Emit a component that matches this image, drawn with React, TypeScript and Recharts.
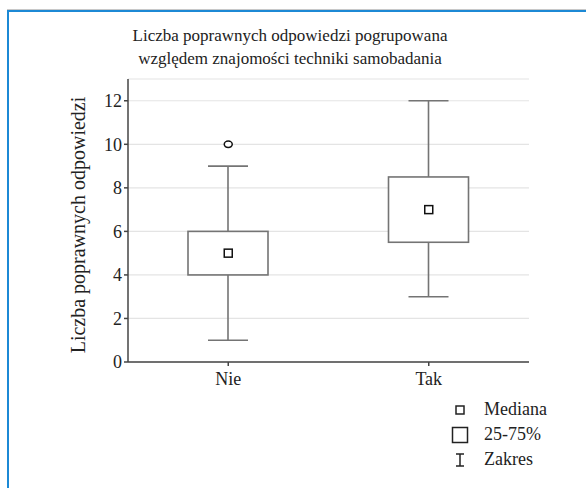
import React from 'react'
import { ComposedChart, Bar, Scatter, XAxis, YAxis, CartesianGrid } from 'recharts'

const categories = ['Nie', 'Tak']
const minValues = [1, 3]
const q1Values = [4, 5.5]
const medianValues = [5, 7]
const q3Values = [6, 8.5]
const maxValues = [9, 12]
const outlierValues: (number | null)[] = [10, null]
const yTicks = [0, 2, 4, 6, 8, 10, 12]

const titleLines = ['Liczba poprawnych odpowiedzi pogrupowana', 'względem znajomości techniki samobadania']
const yLabel = 'Liczba poprawnych odpowiedzi'
const legendItems = ['Mediana', '25-75%', 'Zakres']

const FONT = '"Liberation Serif", "Times New Roman", serif'
const BOX_COLOR = '#747474'
const AXIS_COLOR = '#444'

const data = categories.map((name, i) => ({
  name,
  range: [minValues[i], maxValues[i]],
  min: minValues[i],
  q1: q1Values[i],
  median: medianValues[i],
  q3: q3Values[i],
  max: maxValues[i],
  outlier: outlierValues[i],
}))

// draws whiskers + box inside the bar's own [min, max] pixel range
const BoxShape = (props: any) => {
  const { x, y, width, height, payload } = props
  const top = Math.min(y, y + height)
  const h = Math.abs(height)
  const unit = h / (payload.max - payload.min)
  const toY = (v: number) => top + (payload.max - v) * unit
  const cx = x + width / 2
  const capHalf = 20
  return (
    <g stroke={BOX_COLOR} strokeWidth={1.6} fill="none">
      <line x1={cx} x2={cx} y1={toY(payload.max)} y2={toY(payload.q3)} />
      <line x1={cx} x2={cx} y1={toY(payload.q1)} y2={toY(payload.min)} />
      <line x1={cx - capHalf} x2={cx + capHalf} y1={toY(payload.max)} y2={toY(payload.max)} />
      <line x1={cx - capHalf} x2={cx + capHalf} y1={toY(payload.min)} y2={toY(payload.min)} />
      <rect x={x} y={toY(payload.q3)} width={width} height={toY(payload.q1) - toY(payload.q3)} fill="#fff" />
    </g>
  )
}

const MedianShape = (props: any) => {
  const { cx, cy } = props
  if (cx == null || cy == null) return null
  return <rect x={cx - 4} y={cy - 4} width={8} height={8} fill="#fff" stroke="#111" strokeWidth={1.5} />
}

const OutlierShape = (props: any) => {
  const { cx, cy } = props
  if (cx == null || cy == null) return null
  return <ellipse cx={cx} cy={cy} rx={4} ry={3.2} fill="#fff" stroke="#111" strokeWidth={1.5} />
}

const YLabel = () => (
  <text
    x={80}
    y={225}
    transform="rotate(-90 80 225)"
    textAnchor="middle"
    dominantBaseline="middle"
    fontFamily={FONT}
    fontSize={20}
    fill="#222"
  >
    {yLabel}
  </text>
)

const LegendIcon = ({ kind }: { kind: number }) => {
  if (kind === 0) {
    return (
      <svg width={20} height={20}>
        <rect x={6} y={6} width={8} height={8} fill="#fff" stroke="#222" strokeWidth={1.5} />
      </svg>
    )
  }
  if (kind === 1) {
    return (
      <svg width={20} height={20}>
        <rect x={2.5} y={2.5} width={15} height={15} fill="#fff" stroke="#222" strokeWidth={1.5} />
      </svg>
    )
  }
  return (
    <svg width={20} height={20}>
      <g stroke="#222" strokeWidth={1.5}>
        <line x1={6} x2={14} y1={4} y2={4} />
        <line x1={10} x2={10} y1={4} y2={16} />
        <line x1={6} x2={14} y1={16} y2={16} />
      </g>
    </svg>
  )
}

export default function App() {
  return (
    <div style={{ position: 'fixed', left: 0, top: 0, width: 586, height: 488, background: '#fff', overflow: 'hidden' }}>
      <div
        style={{
          position: 'absolute',
          left: 7,
          top: 10,
          width: 600,
          height: 500,
          borderLeft: '2px solid #1c89d5',
          borderTop: '2px solid #1c89d5',
          boxShadow: '0 -1px 0 #c8c8c8',
        }}
      />
      <div
        style={{
          position: 'absolute',
          left: 0,
          top: 24,
          width: 580,
          textAlign: 'center',
          fontFamily: FONT,
          fontSize: 17,
          lineHeight: '23px',
          color: '#222',
        }}
      >
        {titleLines.map((t) => (
          <div key={t}>{t}</div>
        ))}
      </div>
      <div style={{ position: 'absolute', left: 0, top: 0 }}>
        <ComposedChart
          width={586}
          height={488}
          data={data}
          margin={{ top: 79, right: 57, bottom: 96, left: 68 }}
        >
          <CartesianGrid horizontal vertical={false} stroke="#e4e4e4" strokeWidth={1.2} />
          <XAxis
            dataKey="name"
            stroke={AXIS_COLOR}
            strokeWidth={1.5}
            tickSize={4}
            height={30}
            tick={{ fontFamily: FONT, fontSize: 18, fill: '#222', dy: 4 }}
          />
          <XAxis xAxisId="top" dataKey="name" orientation="top" stroke={AXIS_COLOR} strokeWidth={1.5} tick={false} tickLine={false} height={0} />
          <YAxis
            domain={[0, 13]}
            ticks={yTicks}
            allowDataOverflow
            stroke={AXIS_COLOR}
            strokeWidth={1.5}
            tickSize={4}
            width={60}
            tick={{ fontFamily: FONT, fontSize: 18, fill: '#222' }}
            label={<YLabel />}
          />
          <YAxis
            yAxisId="right"
            orientation="right"
            domain={[0, 13]}
            ticks={yTicks}
            stroke={AXIS_COLOR}
            strokeWidth={1.5}
            tick={false}
            tickSize={3}
            mirror
            width={0}
          />
          <Bar dataKey="range" barSize={80} shape={BoxShape} isAnimationActive={false} />
          <Scatter dataKey="median" shape={MedianShape} isAnimationActive={false} />
          <Scatter dataKey="outlier" shape={OutlierShape} isAnimationActive={false} />
        </ComposedChart>
      </div>
      <div style={{ position: 'absolute', left: 450, top: 397, fontFamily: FONT, fontSize: 18, color: '#222' }}>
        {legendItems.map((item, i) => (
          <div key={item} style={{ display: 'flex', alignItems: 'center', height: 25 }}>
            <LegendIcon kind={i} />
            <span style={{ marginLeft: 14 }}>{item}</span>
          </div>
        ))}
      </div>
    </div>
  )
}
